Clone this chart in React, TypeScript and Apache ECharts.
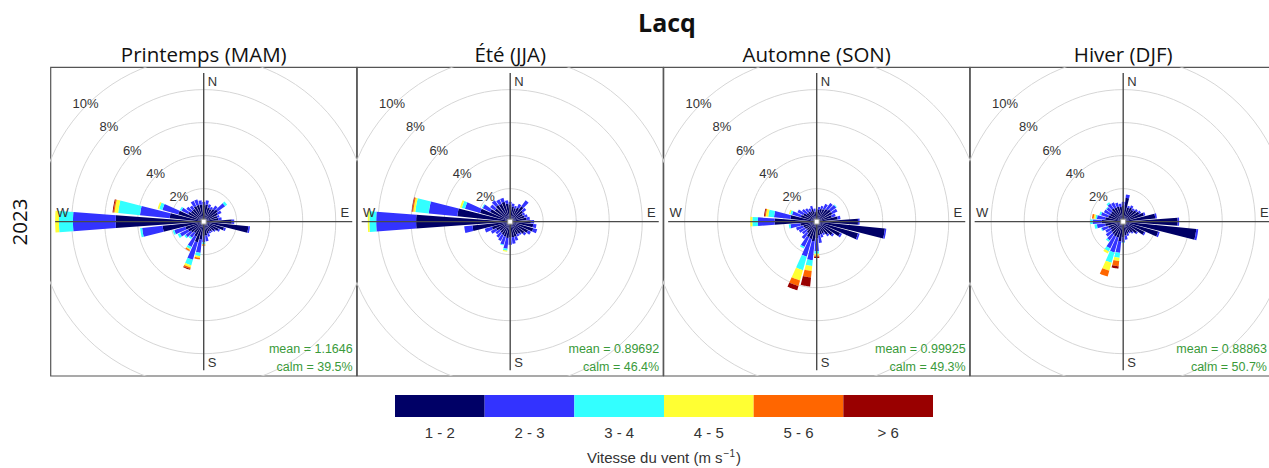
import React, { useEffect, useRef } from "react";
import * as echarts from "echarts";

// ---- data ---------------------------------------------------------------
const STATION = "Lacq";
const YEAR = "2023";
const SEASONS = ["Printemps (MAM)", "Été (JJA)", "Automne (SON)", "Hiver (DJF)"];
const DIRECTIONS = [10, 20, 30, 40, 50, 60, 70, 80, 90, 100, 110, 120, 130, 140, 150, 160, 170, 180,
  190, 200, 210, 220, 230, 240, 250, 260, 270, 280, 290, 300, 310, 320, 330, 340, 350, 360];
const SPEED_BINS = ["1 - 2", "2 - 3", "3 - 4", "4 - 5", "5 - 6", "> 6"];
const SPEED_COLORS = ["#000066", "#3333ff", "#33ffff", "#ffff33", "#ff6600", "#990000"];
const RINGS = [2, 4, 6, 8, 10];
const MEAN_SPEED = [1.1646, 0.89692, 0.99925, 0.88863];
const CALM_PCT = [39.5, 46.4, 49.3, 50.7];

// frequency (%) per direction, one column per speed bin
const SPRING = [
  [1.05, 0.25], [0.9, 0.2], [0.85, 0.15], [0.95, 0.25], [1.05, 0.55, 0.15], [0.95, 0.25],
  [0.85, 0.15], [0.9, 0.2], [1.7, 0.15], [2.72, 0.1], [1.28, 0.12], [1.0, 0.1],
  [0.82, 0.08], [0.72, 0.08], [0.68, 0.12], [0.75, 0.2], [0.85, 0.35], [0.85, 0.4, 0.1, 0.05, 0.05],
  [1.1, 0.8, 0.2, 0.1, 0.1], [1.3, 1.1, 0.35, 0.13, 0.09, 0.06], [1.0, 0.7, 0.15, 0.05, 0.08], [0.85, 0.35, 0.1],
  [0.95, 0.4, 0.1], [1.05, 0.55, 0.15], [1.15, 0.7, 0.1], [2.5, 1.25, 0.12],
  [5.33, 2.59, 0.85, 0.23], [2.07, 1.81, 1.33, 0.22, 0.07, 0.05], [1.6, 1.0, 0.2, 0.1], [1.05, 0.45, 0.1],
  [0.95, 0.35], [0.95, 0.25], [1.05, 0.35], [1.05, 0.35], [1.05, 0.25], [1.0, 0.2],
];
const SUMMER = [
  [0.92, 0.18], [0.85, 0.15], [0.95, 0.25], [1.15, 0.45], [0.95, 0.25], [0.85, 0.15],
  [0.9, 0.2], [1.0, 0.2], [1.25, 0.2], [1.4, 0.2], [1.45, 0.25], [1.2, 0.2],
  [1.05, 0.15], [0.9, 0.1], [0.85, 0.15], [0.95, 0.25], [0.95, 0.4], [0.95, 0.45],
  [1.0, 0.65, 0.12, 0.06], [0.95, 0.5, 0.05], [0.9, 0.4], [0.85, 0.35], [0.8, 0.3], [0.95, 0.35],
  [1.15, 0.45], [2.3, 0.5], [5.7, 2.42, 0.41, 0.1], [3.22, 1.74, 0.82, 0.12, 0.07, 0.03], [1.9, 0.95, 0.2, 0.11], [1.35, 0.5, 0.05],
  [1.15, 0.35], [1.25, 0.35], [1.2, 0.3], [1.25, 0.25], [1.1, 0.2], [1.02, 0.18],
];
const AUTUMN = [
  [0.72, 0.18], [0.8, 0.2], [0.85, 0.35], [0.95, 0.45], [1.05, 0.4, 0.05], [1.05, 0.35],
  [0.95, 0.25], [1.28, 0.17], [2.5, 0.1], [4.15, 0.09], [2.6, 0.1], [1.58, 0.12],
  [1.18, 0.12], [0.98, 0.12], [0.78, 0.12], [0.8, 0.2], [0.85, 0.45], [1.0, 0.8, 0.15, 0.1, 0.08, 0.07],
  [1.2, 1.15, 0.35, 0.3, 0.4, 0.55], [1.1, 1.1, 0.85, 0.65, 0.35, 0.27], [1.05, 0.65, 0.1], [0.85, 0.45], [0.75, 0.35], [0.8, 0.4],
  [0.85, 0.45], [1.0, 0.6, 0.1], [2.55, 1.01, 0.34, 0.12], [1.6, 1.0, 0.35, 0.15, 0.06, 0.05], [1.0, 0.55, 0.12, 0.08], [0.9, 0.4],
  [0.75, 0.35], [0.75, 0.25], [0.7, 0.2], [0.8, 0.2], [0.62, 0.18], [0.58, 0.17],
];
const WINTER = [
  [1.45, 0.2], [0.88, 0.12], [0.95, 0.15], [0.88, 0.12], [0.98, 0.12], [1.08, 0.12],
  [1.3, 0.1], [1.95, 0.1], [3.3, 0.09], [4.45, 0.12], [2.2, 0.1], [1.42, 0.08],
  [1.02, 0.08], [0.82, 0.08], [0.72, 0.08], [0.78, 0.12], [0.85, 0.25], [0.95, 0.3, 0.05],
  [1.2, 0.7, 0.3, 0.2, 0.32, 0.14], [1.0, 0.94, 0.65, 0.5, 0.37], [1.0, 0.8, 0.2, 0.14], [0.95, 0.45, 0.1], [0.9, 0.4], [0.85, 0.35],
  [0.95, 0.4, 0.05], [1.1, 0.5, 0.15], [1.3, 0.55, 0.15], [1.1, 0.5, 0.1, 0.1, 0.1], [0.95, 0.45, 0.1], [0.9, 0.4],
  [0.9, 0.35, 0.05], [1.0, 0.35, 0.1], [0.95, 0.35], [0.95, 0.25], [0.9, 0.2], [1.0, 0.2],
];
const SEASON_DATA = [SPRING, SUMMER, AUTUMN, WINTER];

// ---- layout -------------------------------------------------------------
const BOX_LEFT = 50.7;
const BOX_STEP = 306.5;
const BOX_TOP = 67.3;
const BOX_W = 306;
const BOX_H = 308.7;
const VISIBLE_W = 1269;
const HALF_WEDGE = 4.2; // degrees either side of the bin centre
const PANEL_FONT = '"Liberation Sans", Arial, sans-serif';
const TITLE_FONT = '"Open Sans", "Noto Sans", sans-serif';
const GREEN = "#3a9a3a";

function buildWedges(table: number[][]) {
  const out: number[][] = [];
  table.forEach((row, d) => {
    let c = 0;
    row.forEach((v, b) => {
      if (v > 0) {
        out.push([DIRECTIONS[d], c, c + v, b]);
        c += v;
      }
    });
  });
  return out;
}

const totals = SEASON_DATA.map((t) => t.map((row) => row.reduce((a, b) => a + b, 0)));
const MAX_FREQ = Math.max(...totals.flat());

export default function App() {
  const ref = useRef<HTMLDivElement>(null);

  useEffect(() => {
    if (!ref.current) return;
    const chart = echarts.init(ref.current, null, { renderer: "svg" });

    const xHalf = MAX_FREQ * 1.03;
    const yHalf = (xHalf * BOX_H) / BOX_W;

    const grids: any[] = [];
    const xAxes: any[] = [];
    const yAxes: any[] = [];
    const series: any[] = [];
    const graphics: any[] = [];

    SEASONS.forEach((name, i) => {
      const left = BOX_LEFT + i * BOX_STEP;
      grids.push({ left, top: BOX_TOP, width: BOX_W, height: BOX_H, show: true, borderColor: "#555555", borderWidth: 1.2, backgroundColor: "transparent" });
      xAxes.push({ type: "value", gridIndex: i, min: -xHalf, max: xHalf, show: false });
      yAxes.push({ type: "value", gridIndex: i, min: -yHalf, max: yHalf, show: false });

      // grid circles
      series.push({
        type: "custom",
        xAxisIndex: i,
        yAxisIndex: i,
        clip: true,
        silent: true,
        z: 1,
        data: RINGS.map((r) => [r, 0]),
        renderItem: (params: any, api: any) => {
          const r = api.value(0);
          const c = api.coord([0, 0]);
          const rp = api.size([r, 0])[0];
          return { type: "circle", shape: { cx: c[0], cy: c[1], r: rp }, style: { fill: "none", stroke: "#d6d6d6", lineWidth: 1 } };
        },
      });

      // wedges
      series.push({
        type: "custom",
        xAxisIndex: i,
        yAxisIndex: i,
        silent: true,
        z: 2,
        data: buildWedges(SEASON_DATA[i]),
        renderItem: (params: any, api: any) => {
          const dir = api.value(0);
          const r0 = api.value(1);
          const r1 = api.value(2);
          const bin = api.value(3);
          const pts: number[][] = [];
          const n = 10;
          for (let k = 0; k <= n; k++) {
            const a = ((dir - HALF_WEDGE + (2 * HALF_WEDGE * k) / n) * Math.PI) / 180;
            pts.push(api.coord([r1 * Math.sin(a), r1 * Math.cos(a)]));
          }
          for (let k = n; k >= 0; k--) {
            const a = ((dir - HALF_WEDGE + (2 * HALF_WEDGE * k) / n) * Math.PI) / 180;
            pts.push(api.coord([r0 * Math.sin(a), r0 * Math.cos(a)]));
          }
          return { type: "polygon", shape: { points: pts }, style: { fill: SPEED_COLORS[bin] } };
        },
      });

      // compass cross, labels, centre mark
      series.push({
        type: "custom",
        xAxisIndex: i,
        yAxisIndex: i,
        silent: true,
        z: 3,
        data: [[0, 0]],
        renderItem: (params: any, api: any) => {
          const m = MAX_FREQ;
          const lab = m * 0.95;
          const c = api.coord([0, 0]);
          const lineStyle = { stroke: "#4a4a4a", lineWidth: 1.4 };
          const txt = (text: string, p: number[], align: string, valign: string, color = "#333", size = 13) => ({
            type: "text",
            x: p[0],
            y: p[1],
            style: { text, fill: color, font: `${size}px ${PANEL_FONT}`, align, verticalAlign: valign, textAlign: align, textVerticalAlign: valign },
          });
          const children: any[] = [];
          const n = api.coord([0, m]);
          const s = api.coord([0, -m]);
          const e = api.coord([m, 0]);
          const w = api.coord([-m, 0]);
          children.push({ type: "line", shape: { x1: n[0], y1: n[1], x2: s[0], y2: s[1] }, style: lineStyle });
          children.push({ type: "line", shape: { x1: w[0], y1: w[1], x2: e[0], y2: e[1] }, style: lineStyle });
          children.push({ type: "rect", shape: { x: c[0] - 2.5, y: c[1] - 2.5, width: 5, height: 5 }, style: { fill: "#ffffff", stroke: "#8a8a8a", lineWidth: 1 } });
          const pn = api.coord([0, lab]);
          const ps = api.coord([0, -lab]);
          const pe = api.coord([lab, 0]);
          const pw = api.coord([-lab, 0]);
          children.push(txt("N", [pn[0] + 4, pn[1] + 1], "left", "middle"));
          children.push(txt("S", [ps[0] + 4, ps[1]], "left", "middle"));
          children.push(txt("E", [pe[0], pe[1] - 3], "center", "bottom"));
          children.push(txt("W", [pw[0], pw[1] - 3], "center", "bottom"));
          RINGS.forEach((r) => {
            const rr = r + 0.12;
            const p = api.coord([-rr * Math.SQRT1_2, rr * Math.SQRT1_2]);
            children.push(txt(`${r}%`, p, "center", "middle"));
          });
          // statistics, kept inside the visible window
          const br = api.coord([xHalf, -yHalf]);
          const right = Math.min(br[0] - 4, VISIBLE_W - 2);
          children.push(txt(`mean = ${MEAN_SPEED[i]}`, [right, br[1] - 27], "right", "middle", GREEN, 12.5));
          children.push(txt(`calm = ${CALM_PCT[i].toFixed(1)}%`, [right, br[1] - 9], "right", "middle", GREEN, 12.5));
          return { type: "group", children };
        },
      });

      graphics.push({
        type: "text",
        x: left + BOX_W / 2,
        y: 54,
        style: { text: name, font: `20.5px ${TITLE_FONT}`, fill: "#111", align: "center", verticalAlign: "middle", textAlign: "center", textVerticalAlign: "middle" },
      });
    });

    // colour key as a one-row bar strip
    grids.push({ left: 395, top: 395, width: 538, height: 22, show: false });
    xAxes.push({
      type: "category",
      gridIndex: 4,
      data: SPEED_BINS,
      axisLine: { show: false },
      axisTick: { show: false },
      axisLabel: { color: "#333", fontSize: 15, fontFamily: PANEL_FONT, margin: 8 },
      name: "{n|Vitesse du vent (m s}{s|−1}{n|)}",
      nameLocation: "middle",
      nameGap: 31,
      nameTextStyle: {
        rich: {
          n: { fontSize: 15, color: "#333", fontFamily: PANEL_FONT },
          s: { fontSize: 10, color: "#333", fontFamily: PANEL_FONT, padding: [0, 1, 8, 1] },
        },
      },
    });
    yAxes.push({ type: "value", gridIndex: 4, min: 0, max: 1, show: false });
    series.push({
      type: "bar",
      xAxisIndex: 4,
      yAxisIndex: 4,
      silent: true,
      barWidth: "100%",
      barCategoryGap: 0,
      data: SPEED_BINS.map((_, k) => ({ value: 1, itemStyle: { color: SPEED_COLORS[k] } })),
    });

    graphics.push({
      type: "text",
      x: 667,
      y: 22,
      style: { text: STATION, font: `bold 25px ${TITLE_FONT}`, fill: "#111", align: "center", verticalAlign: "middle", textAlign: "center", textVerticalAlign: "middle" },
    });
    graphics.push({
      type: "text",
      x: 19,
      y: 222,
      rotation: Math.PI / 2,
      style: { text: YEAR, font: `20.5px ${TITLE_FONT}`, fill: "#111", align: "center", verticalAlign: "middle", textAlign: "center", textVerticalAlign: "middle" },
    });

    chart.setOption({
      animation: false,
      backgroundColor: "#ffffff",
      grid: grids,
      xAxis: xAxes,
      yAxis: yAxes,
      series,
      graphic: graphics,
    });

    return () => chart.dispose();
  }, []);

  // wider than the window: the last panel runs past the right edge
  return <div ref={ref} style={{ position: "fixed", left: 0, top: 0, width: 1290, height: 468 }} />;
}
